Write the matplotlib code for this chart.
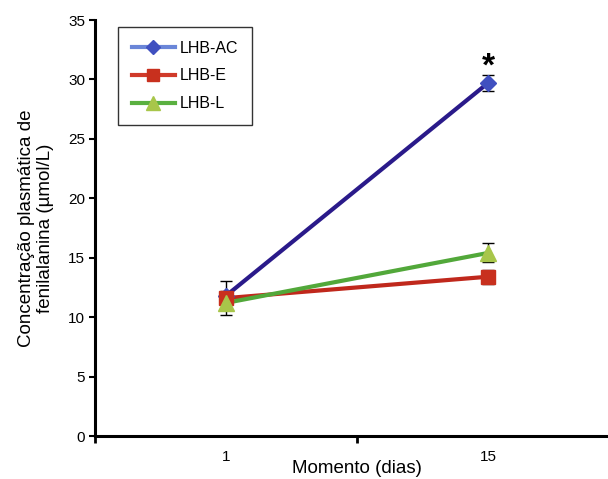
import matplotlib
matplotlib.use("Agg")
import matplotlib.pyplot as plt
import numpy as np

categories = ["1", "15"]
series = ["LHB-AC", "LHB-E", "LHB-L"]
ac_vals = [11.8, 29.7]
ac_err = [1.2, 0.7]
e_vals = [11.6, 13.4]
e_err = [0.5, 0.6]
l_vals = [11.2, 15.4]
l_err = [1.0, 0.8]
yticks = [0, 5, 10, 15, 20, 25, 30, 35]

plt.rcParams['font.family'] = ['Liberation Sans', 'DejaVu Sans']

fig = plt.figure(figsize=(6.08, 4.79), dpi=100)
W, H = 608, 479
x0, x1 = 95, 619
y0, y1 = 436, 20
ax = fig.add_axes([x0 / W, 1 - y0 / H, (x1 - x0) / W, (y0 - y1) / H])

xpos = np.array([0.5, 1.5])

styles = [
    (ac_vals, ac_err, "#2a1a8a", "#4050c0", "D", 8, "#6a86d8"),
    (e_vals, e_err, "#c0281c", "#c8301e", "s", 10, "#d03a2a"),
    (l_vals, l_err, "#52a83a", "#a8c64a", "^", 11, "#5ab040"),
]
handles = []
for (vals, err, lc, mc, mk, ms, legc), name in zip(styles, series):
    ax.errorbar(xpos, vals, yerr=err, fmt="none", ecolor="black", elinewidth=1,
                capsize=4, capthick=1, zorder=2)
    ax.plot(xpos, vals, color=lc, lw=3, zorder=3)
    ax.plot(xpos, vals, ls="none", marker=mk, ms=ms, color=mc, mec=mc, zorder=4)
    h, = ax.plot([], [], color=legc, lw=3, marker=mk, ms=ms - 1, mfc=mc, mec=mc,
                 label=name)
    handles.append(h)

ax.text(xpos[1], 31.0, "*", ha="center", va="center",
        fontsize=24, fontweight="bold")

ax.set_xlim(0, 2)
ax.set_ylim(0, 35)
ax.set_yticks(yticks)
ax.set_xticks([0, 1, 2])
ax.set_xticklabels([])
ax.set_xticks(xpos, minor=True)
ax.set_xticklabels(categories, minor=True)
ax.tick_params(axis="x", which="minor", length=0, labelsize=11, pad=10)
ax.tick_params(axis="x", which="major", direction="out", length=5, width=2)
ax.tick_params(axis="y", direction="out", length=4, width=1.5, labelsize=11, pad=3)

for s in ["top", "right"]:
    ax.spines[s].set_visible(False)
for s in ["left", "bottom"]:
    ax.spines[s].set_linewidth(2.2)

ax.set_xlabel("Momento (dias)", fontsize=13.5, labelpad=-3)
ax.xaxis.set_label_coords(0.5, -0.058)
ax.set_ylabel("Concentração plasmática de\nfenilalanina (µmol/L)", fontsize=13.5,
              labelpad=10)

leg = ax.legend(handles=handles, loc="upper left", bbox_to_anchor=(0.044, 0.983),
                borderaxespad=0,
                frameon=True, fancybox=False, edgecolor="black", fontsize=11.5,
                handlelength=2.7, handletextpad=0.3, borderpad=0.85,
                labelspacing=0.8)
leg.get_frame().set_linewidth(1)

fig.savefig("out.png", dpi=100)
